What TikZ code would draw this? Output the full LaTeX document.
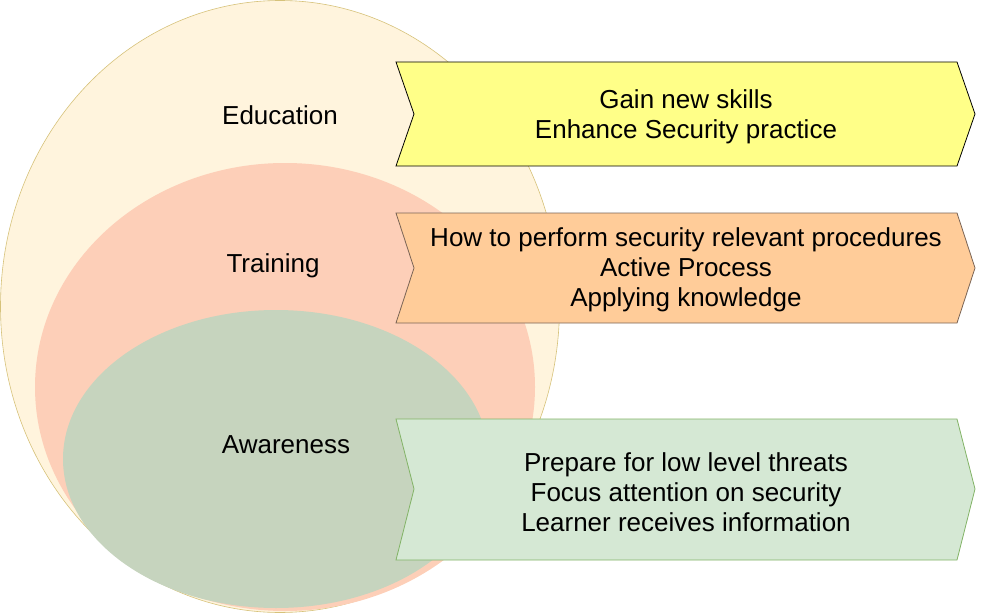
\documentclass[tikz,border=0pt]{standalone}
\usepackage{fontspec}
\setmainfont{Liberation Sans}
\definecolor{eduFill}{HTML}{FFF4DD}
\definecolor{eduLine}{HTML}{D6C27A}
\definecolor{trainFill}{HTML}{FDCFB8}
\definecolor{awareFill}{HTML}{C6D4BE}
\definecolor{gainFill}{HTML}{FFFF88}
\definecolor{procFill}{HTML}{FFCC99}
\definecolor{procLine}{HTML}{7A6455}
\definecolor{prepFill}{HTML}{D5E8D4}
\definecolor{prepLine}{HTML}{82B366}
\tikzset{label/.style={font=\fontsize{26}{30}\selectfont,align=center,inner sep=0},
	chevron/.style={line width=0.8pt,line join=miter}}
\begin{document}
\begin{tikzpicture}[x=1pt,y=-1pt]
\useasboundingbox (0,0) rectangle (1006,615);
% nested circles
\filldraw[fill=eduFill,draw=eduLine,line width=0.6pt] (280,306.5) ellipse [x radius=279.5,y radius=306];
\fill[trainFill] (285,387) ellipse [x radius=250,y radius=224];
\fill[awareFill] (276,459) ellipse [x radius=213,y radius=149];
\node[label] (edu) at (280,115) {Education};
\node[label] (train) at (273,266) {Training};
\node[label] (aware) at (286,445) {Awareness};
% chevrons
\filldraw[chevron,fill=gainFill,draw=black] (396,62) -- (957,62) -- (975,114) -- (957,166) -- (396,166) -- (414,114) -- cycle;
\node[label] (gain) at (686,117) {Gain new skills\\Enhance Security practice};
\filldraw[chevron,fill=procFill,draw=procLine] (396,213) -- (957,213) -- (975,268) -- (957,323) -- (396,323) -- (414,268) -- cycle;
\node[label] (proc) at (686,270) {How to perform security relevant procedures\\Active Process\\Applying knowledge};
\filldraw[chevron,fill=prepFill,draw=prepLine] (396,419) -- (957,419) -- (975,489) -- (957,560) -- (396,560) -- (414,489) -- cycle;
\node[label] (prep) at (686,492) {Prepare for low level threats\\Focus attention on security\\Learner receives information};
\end{tikzpicture}
\end{document}
